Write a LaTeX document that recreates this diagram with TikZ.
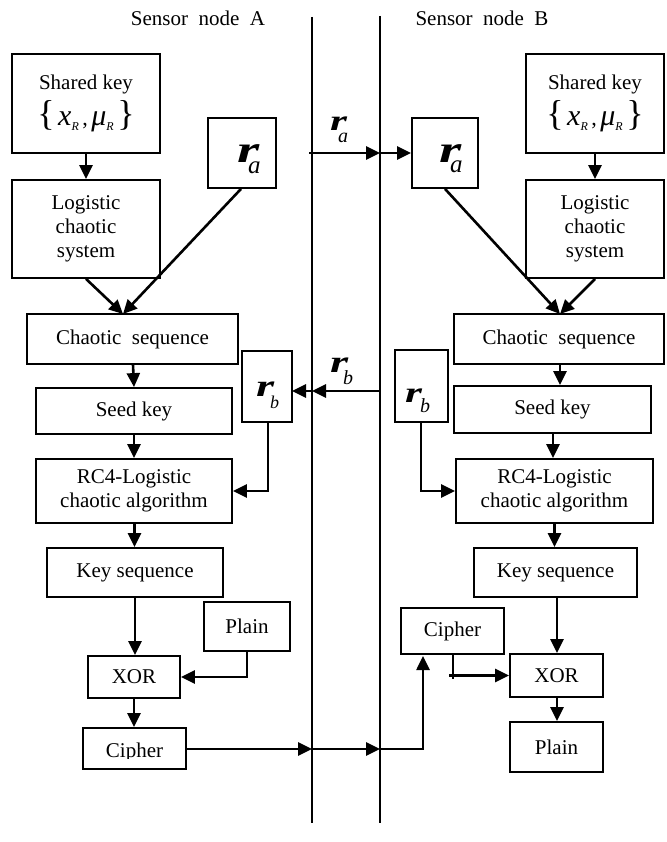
\documentclass[tikz,border=0pt]{standalone}
\usepackage{fontspec}
\usepackage{graphicx}
\setmainfont{Liberation Serif}
\usetikzlibrary{arrows.meta,calc}
% r-label: #1 r size, #2 sub size, #3 sub letter, #4 sub x offset, #5 sub drop
\newcommand{\rlab}[5]{\rlap{\fontsize{#1}{#1}\selectfont\bfseries\itshape\scalebox{1.5}[1]{r}}\hspace{#4}\raisebox{-#5}{\fontsize{#2}{#2}\selectfont\itshape #3}}
\newcommand{\mybox}[6]{\node[box, minimum width={#4pt-#2pt}, minimum height={#5pt-#3pt}] (#1) at ({(#2+#4)/2},{(#3+#5)/2}) {#6};}
\newcommand{\skey}{Shared key\\[6pt]{\fontsize{36}{36}\selectfont\{}\,{\fontsize{30}{30}\selectfont\itshape x}\raisebox{-5pt}{\fontsize{12}{12}\selectfont\itshape R}\,{\fontsize{22}{22}\selectfont,}\,{\fontsize{30}{30}\selectfont\itshape μ}\raisebox{-5pt}{\fontsize{12}{12}\selectfont\itshape R}\,{\fontsize{36}{36}\selectfont\}}}
\begin{document}
\begin{tikzpicture}[x=1pt,y=-1pt,
  box/.style={draw, line width=1.8pt, inner sep=0pt, align=center, font=\fontsize{21}{24}\selectfont},
  arr/.style={line width=2.6pt, -{Triangle[length=14pt,width=13pt]}},
  ln/.style={line width=2.6pt},
  sep/.style={line width=1.9pt},
  lbl/.style={inner sep=0pt, font=\fontsize{21}{24}\selectfont},
  rl/.style={inner sep=0pt, anchor=base west}]
\useasboundingbox (0,0) rectangle (666,842);
\fill[white] (0,0) rectangle (666,842);

% separators
\coordinate (L1t) at (312,17);
\coordinate (L1b) at (312,823);
\coordinate (L2t) at (380,16);
\coordinate (L2b) at (380,823);
\draw[sep] (L1t) -- (L1b);
\draw[sep] (L2t) -- (L2b);

\node[lbl] (tA) at (198,18) {Sensor\ \ node\ \ A};
\node[lbl] (tB) at (482,18) {Sensor\ \ node\ \ B};

% side A
\mybox{skA}{12}{54}{160}{153}{\skey}
\mybox{logA}{12}{180}{160}{278}{Logistic\\chaotic\\system}
\mybox{raA}{208}{118}{276}{188}{}
\mybox{csA}{27}{314}{238}{364}{Chaotic\ \ sequence}
\mybox{rbA}{242}{351}{292}{422}{}
\mybox{sdA}{36}{388}{232}{434}{Seed key}
\mybox{rcA}{36}{459}{232}{523}{RC4-Logistic\\chaotic algorithm}
\mybox{ksA}{47}{548}{223}{597}{Key sequence}
\mybox{plA}{204}{602}{290}{651}{Plain}
\mybox{xoA}{88}{656}{180}{698}{XOR}
\mybox{ciA}{83}{728}{186}{769}{}
\begin{scope}
\clip (84,729) rectangle (185,758.5);
\node[lbl, anchor=base] (ciAt) at (134.5,757) {Cipher};
\end{scope}

% side B
\mybox{skB}{526}{54}{664}{153}{\skey}
\mybox{logB}{526}{180}{664}{278}{Logistic\\chaotic\\system}
\mybox{raB}{412}{118}{478}{188}{}
\mybox{csB}{454}{314}{664}{364}{Chaotic\ \ sequence}
\mybox{rbB}{395}{350}{448}{422}{}
\mybox{sdB}{454}{386}{651}{433}{Seed key}
\mybox{rcB}{456}{459}{653}{523}{RC4-Logistic\\chaotic algorithm}
\mybox{ksB}{474}{548}{637}{597}{Key sequence}
\mybox{ciB}{401}{608}{504}{654}{Cipher}
\mybox{xoB}{510}{654}{603}{697}{XOR}
\mybox{plB}{510}{722}{603}{772}{Plain}

% r labels
\node[rl] (raAt) at (237,163) {\rlab{38}{25}{a}{11pt}{11pt}};
\node[rl] (raBt) at (439,163) {\rlab{38}{25}{a}{11pt}{10pt}};
\node[rl] (raL) at (330,131) {\rlab{29}{20}{a}{8pt}{12pt}};
\node[rl] (rbL) at (330,372) {\rlab{31}{20}{b}{13pt}{12pt}};
\node[rl] (rbAt) at (256,396) {\rlab{31}{18}{b}{14pt}{12pt}};
\node[rl] (rbBt) at (405,402) {\rlab{29}{20}{b}{15pt}{10pt}};

% connectors side A
\coordinate (csAin) at (123,314);
\draw[arr] (skA.south) -- (logA.north);
\draw[arr] (logA.south) -- (csAin);
\draw[arr] ([xshift=-1pt]raA.south) -- (csAin);
\draw[arr] ([xshift=0.5pt]csA.south) -- (sdA.north);
\draw[arr] (sdA.south) -- (rcA.north);
\draw[arr] ([xshift=1pt]rbA.south) |- (rcA.east);
\draw[arr] ([xshift=0.5pt]rcA.south) -- ([xshift=0.5pt]rcA.south |- ksA.north);
\draw[arr] (ksA.south) -- (ksA.south |- xoA.north);
\draw[arr] (plA.south) |- (xoA.east);
\draw[arr] (xoA.south) -- (xoA.south |- ciA.north);

% crossings
\coordinate (raOut) at (309,153);
\draw[arr] (raOut) -- (raOut -| L2t);
\draw[arr] (raOut -| L2t) -- (raB.west);
\coordinate (rbIn) at (292,391);
\draw[arr] (rbIn -| L2t) -- (rbIn -| L1t);
\draw[arr] (rbIn -| L1t) -- (rbIn);
\coordinate (ciOut) at (186,749);
\coordinate (ciBin) at (423,656);
\draw[arr] (ciOut) -- (ciOut -| L1t);
\draw[arr] (ciOut -| L1t) -- (ciOut -| L2t);
\draw[arr] (ciOut -| L2t) -| (ciBin);

% connectors side B
\coordinate (csBin) at (560,314);
\draw[arr] (skB.south) -- (logB.north);
\draw[arr] (logB.south) -- (csBin);
\draw[arr] (raB.south) -- (csBin);
\draw[arr] (csBin |- csB.south) -- (csBin |- sdB.north);
\draw[arr] ([xshift=0.5pt]sdB.south) -- ([xshift=0.5pt]sdB.south |- rcB.north);
\draw[arr] ([xshift=-0.5pt]rbB.south) |- (rcB.west);
\draw[arr] (rcB.south) -- (rcB.south |- ksB.north);
\draw[arr] ([xshift=1.5pt]ksB.south) -- ([xshift=1.5pt]ksB.south |- xoB.north);
\draw[ln] ([xshift=0.5pt]ciB.south) -- ++(0,24);
\draw[arr] ([xshift=-3.5pt]ciB.south |- xoB.west) -- (xoB.west);
\draw[arr] ([xshift=0.5pt]xoB.south) -- ([xshift=0.5pt]plB.north);
\end{tikzpicture}
\end{document}
